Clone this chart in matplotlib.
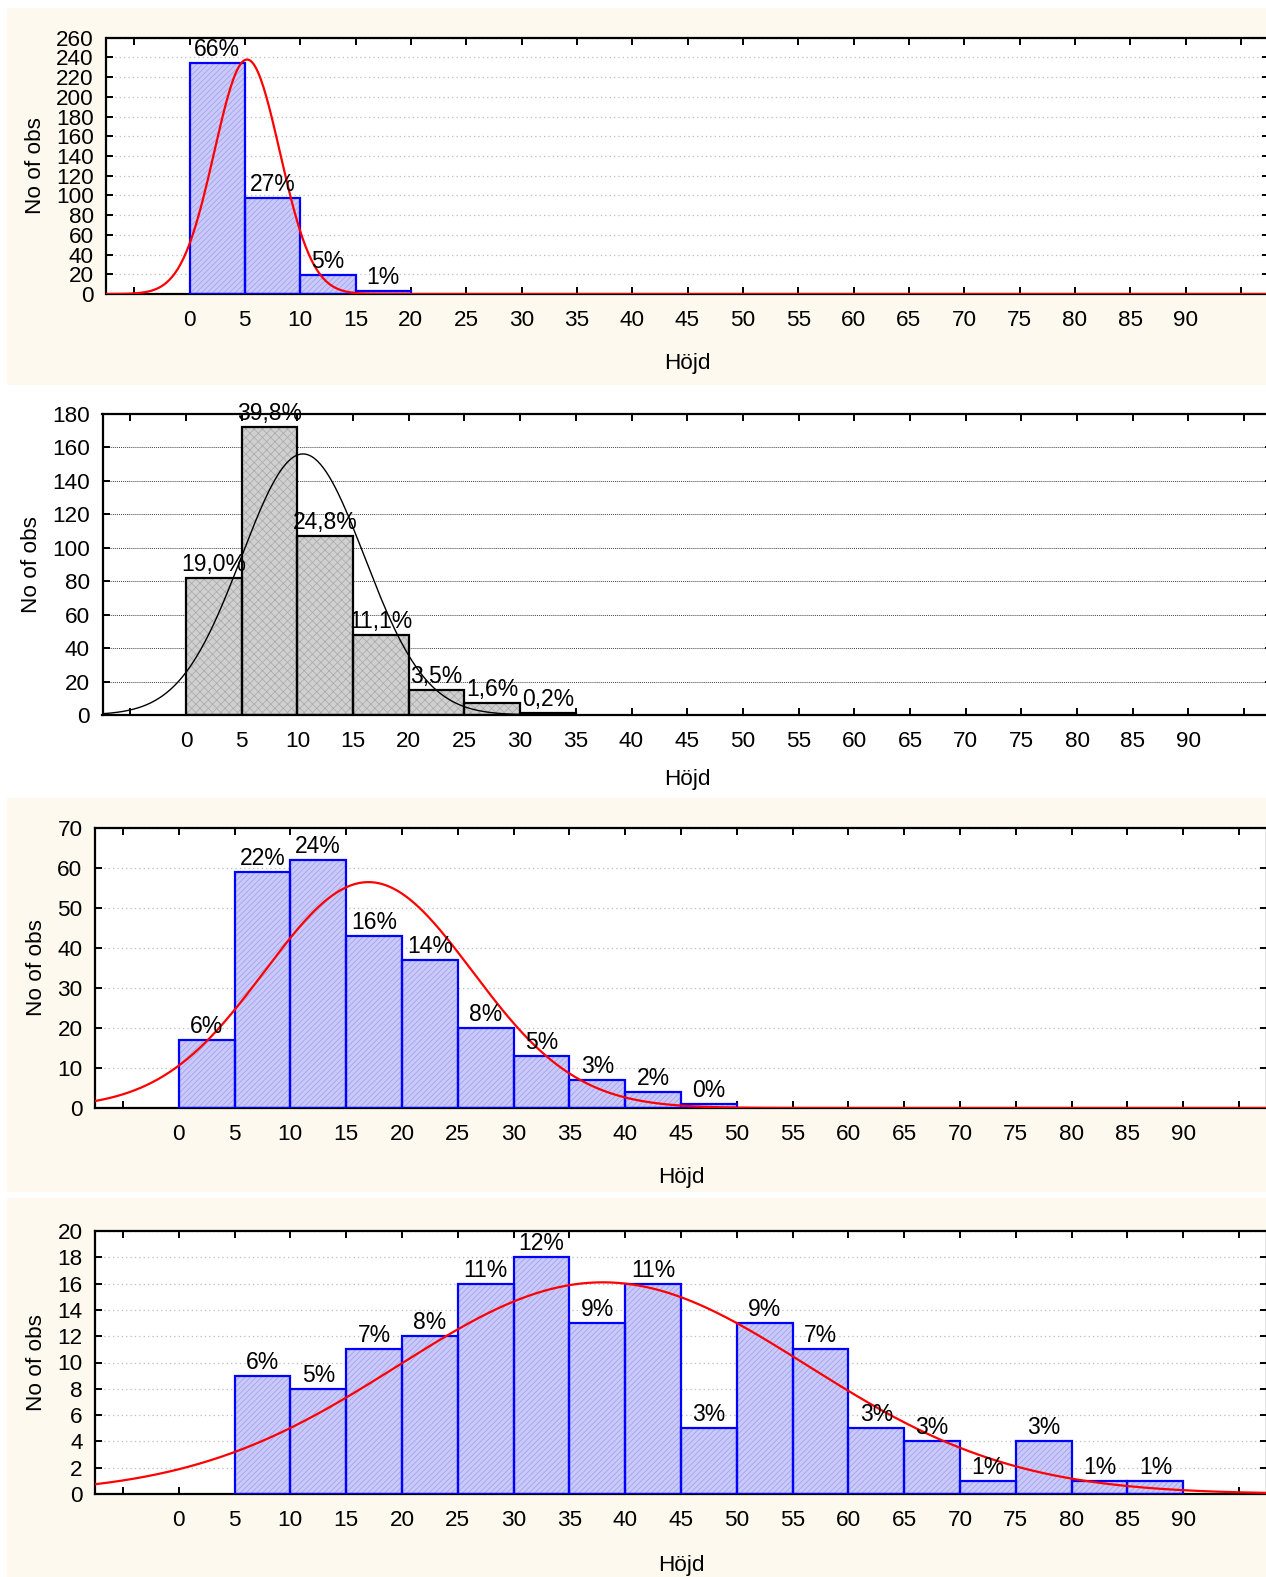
import matplotlib.pyplot as plt
from matplotlib.patches import Rectangle
import numpy as np

W, H = 1266, 1577

plt.rcParams['font.family'] = ['Liberation Sans', 'DejaVu Sans']
plt.rcParams['hatch.linewidth'] = 0.5

bin_width = 5
x_ticks = list(range(-5, 100, 5))
x_labels = [str(t) if 0 <= t <= 90 else "" for t in x_ticks]

# panel 1
p1_edges = [0, 5, 10, 15]
p1_counts = [234, 97, 19, 3]
p1_labels = ["66%", "27%", "5%", "1%"]
p1_mean, p1_sd = 5.2, 2.96

# panel 2
p2_edges = [0, 5, 10, 15, 20, 25, 30]
p2_counts = [82, 172, 107, 48, 15, 7, 1]
p2_labels = ["19,0%", "39,8%", "24,8%", "11,1%", "3,5%", "1,6%", "0,2%"]
p2_mean, p2_sd = 10.5, 5.52

# panel 3
p3_edges = [0, 5, 10, 15, 20, 25, 30, 35, 40, 45]
p3_counts = [17, 59, 62, 43, 37, 20, 13, 7, 4, 1]
p3_labels = ["6%", "22%", "24%", "16%", "14%", "8%", "5%", "3%", "2%", "0%"]
p3_mean, p3_sd = 17.0, 9.29

# panel 4
p4_edges = [5, 10, 15, 20, 25, 30, 35, 40, 45, 50, 55, 60, 65, 70, 75, 80, 85]
p4_counts = [9, 8, 11, 12, 16, 18, 13, 16, 5, 13, 11, 5, 4, 1, 4, 1, 1]
p4_labels = ["6%", "5%", "7%", "8%", "11%", "12%", "9%", "11%", "3%", "9%",
             "7%", "3%", "3%", "1%", "3%", "1%", "1%"]
p4_mean, p4_sd = 38.0, 18.34

cream = '#fdf9ee'
fs = 16.2

fig = plt.figure(figsize=(W / 100, H / 100), dpi=100)
fig.patch.set_facecolor('white')


def bg(x0, y0, x1, y1):
    fig.patches.append(Rectangle((x0 / W, 1 - y1 / H), (x1 - x0) / W, (y1 - y0) / H,
                                 transform=fig.transFigure, facecolor=cream,
                                 edgecolor='none', zorder=-10))


bg(7, 8, W, 385)
bg(7, 798, W, 1192)
bg(7, 1198, W, H)


def panel(rect, edges, counts, labels, mean, sd, ymax, ystep, style, xlabelpad=16):
    l, t, r, b = rect
    ax = fig.add_axes([l / W, 1 - b / H, (r - l) / W, (b - t) / H])
    ax.set_facecolor('white')
    ax.set_xlim(-7.5, 97.5)
    ax.set_ylim(0, ymax)

    if style == 'blue':
        face, hatch_col, edge, curve_col, curve_lw = '#c9c9fb', '#9d9de6', '#0000ff', '#ff0000', 1.6
        grid_kw = dict(color='#bdbdbd', linestyle=(0, (1, 2.5)), linewidth=0.9)
        hatch = '//////'
    else:
        face, hatch_col, edge, curve_col, curve_lw = '#d0d0d0', '#a8a8a8', '#000000', '#000000', 1.0
        grid_kw = dict(color='#444444', linestyle=(0, (1, 1)), linewidth=0.7)
        hatch = 'xxxx'

    ax.bar(edges, counts, width=bin_width, align='edge', color=face,
           edgecolor=hatch_col, hatch=hatch, linewidth=0, zorder=2)
    ax.bar(edges, counts, width=bin_width, align='edge', fill=False,
           edgecolor=edge, linewidth=1.6, zorder=3)

    n = sum(counts)
    xs = np.linspace(-7.5, 97.5, 800)
    ys = n * bin_width / (sd * np.sqrt(2 * np.pi)) * np.exp(-(xs - mean) ** 2 / (2 * sd ** 2))
    ax.plot(xs, ys, color=curve_col, linewidth=curve_lw, zorder=4)

    for e, c, lab in zip(edges, counts, labels):
        ax.annotate(lab, (e + bin_width / 2, c), xytext=(0, 5), textcoords='offset points',
                    ha='center', va='baseline', fontsize=16.5, color='black', zorder=5)

    yt = list(range(0, ymax + 1, ystep))
    ax.set_yticks(yt)
    ax.set_xticks(x_ticks)
    ax.set_xticklabels(x_labels)
    ax.yaxis.grid(True, **grid_kw)
    ax.set_axisbelow(True)
    ax.tick_params(axis='both', direction='in', length=5, width=1.4, labelsize=fs,
                   top=True, right=True)
    ax.tick_params(axis='y', pad=9)
    ax.tick_params(axis='x', pad=11.5)
    for s in ax.spines.values():
        s.set_linewidth(1.6)
        s.set_color('black')
    ax.set_xlabel("Höjd", fontsize=fs, labelpad=xlabelpad)
    ax.set_ylabel("No of obs", fontsize=fs, labelpad=7.5)
    return ax


ax1 = panel((106.5, 37.7, 1268.6, 294), p1_edges, p1_counts, p1_labels,
            p1_mean, p1_sd, 260, 20, 'blue')
ax2 = panel((102.5, 414, 1272, 715), p2_edges, p2_counts, p2_labels,
            p2_mean, p2_sd, 180, 20, 'gray', xlabelpad=12)
ax3 = panel((95, 828, 1267, 1108), p3_edges, p3_counts, p3_labels,
            p3_mean, p3_sd, 70, 10, 'blue')
ax4 = panel((95, 1231, 1267, 1494), p4_edges, p4_counts, p4_labels,
            p4_mean, p4_sd, 20, 2, 'blue', xlabelpad=17)

fig.savefig("out.png", dpi=100)
